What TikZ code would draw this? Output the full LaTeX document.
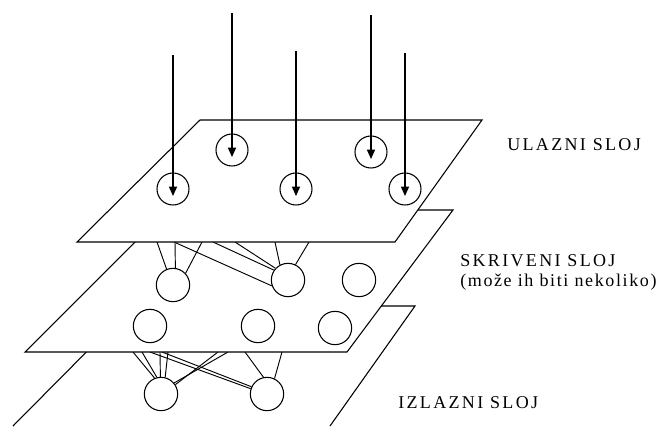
\documentclass[tikz,border=0pt]{standalone}
\usepackage{fontspec}
\setmainfont{Liberation Serif}
\newfontfamily\labfont[LetterSpace=13]{Liberation Serif}
\newfontfamily\labfontlc[LetterSpace=9]{Liberation Serif}
\usetikzlibrary{arrows.meta}
\begin{document}
\begin{tikzpicture}[x=0.75pt,y=-0.75pt,
  neuron/.style={circle,draw,line width=0.8pt,minimum size=25pt,inner sep=0pt},
  inneuron/.style={circle,draw,line width=0.8pt,minimum size=24pt,inner sep=0pt},
  plane/.style={draw,fill=white,line width=0.8pt},
  link/.style={line width=0.7pt},
  inarrow/.style={line width=1.1pt,-{Triangle[length=7pt,width=6pt]}},
  lab/.style={anchor=west,inner sep=0pt,font=\labfont\fontsize{13.5pt}{15pt}\selectfont},
  lablc/.style={anchor=west,inner sep=0pt,font=\labfontlc\fontsize{13.5pt}{15pt}\selectfont}]
\useasboundingbox (0,0) rectangle (669,426);

% ---------- output layer ----------
\draw[line width=0.8pt] (13,426) -- (132,306) -- (415,306) -- (330,426);
\node[neuron] (C) at (161,394) {};
\node[neuron] (D) at (267,394) {};
\coordinate (c1) at (133,352);
\coordinate (c2) at (142,352);
\coordinate (c3) at (160,352);
\coordinate (c4) at (168,352);
\coordinate (c5) at (228,352);
\coordinate (c6) at (218,352);
\coordinate (d1) at (162,352);
\coordinate (d2) at (150,352);
\coordinate (d3) at (245,352);
\coordinate (d4) at (282,352);
\draw[link] (C.112) -- (c1);
\draw[link] (C.104) -- (c2);
\draw[link] (C.92) -- (c3);
\draw[link] (C.76) -- (c4);
\draw[link] (C.40) -- (c5);
\draw[link] (C.33) -- (c6);
\draw[link] (D.155) -- (d1);
\draw[link] (D.162) -- (d2);
\draw[link] (D.102) -- (d3);
\draw[link] (D.64) -- (d4);

% ---------- hidden layer ----------
\draw[plane] (167,210) -- (453,210) -- (347,352) -- (25,352) -- cycle;
\node[neuron] (A) at (173,285) {};
\node[neuron] (B) at (288,280) {};
\node[neuron] (H3) at (359,280) {};
\node[neuron] (H4) at (150,326) {};
\node[neuron] (H5) at (258,326) {};
\node[neuron] (H6) at (335,328) {};
\coordinate (a1) at (157,242);
\coordinate (a2) at (175,242);
\coordinate (a3) at (202,242);
\coordinate (b0) at (174,242);
\coordinate (b1) at (213,242);
\coordinate (b2) at (235,242);
\coordinate (b3) at (275,242);
\coordinate (b4) at (309,242);
\draw[link] (A.112) -- (a1);
\draw[link] (A.82) -- (a2);
\draw[link] (A.43) -- (a3);
\draw[link] (B.200) -- (b0);
\draw[link] (B.145) -- (b1);
\draw[link] (B.137) -- (b2);
\draw[link] (B.118) -- (b3);
\draw[link] (B.64) -- (b4);

% ---------- input layer ----------
\draw[plane] (200,120) -- (482,120) -- (395,242) -- (77,242) -- cycle;
\node[inneuron] (I1) at (173,189) {};
\node[inneuron] (I2) at (232,150) {};
\node[inneuron] (I3) at (296,189) {};
\node[inneuron] (I4) at (371,152) {};
\node[inneuron] (I5) at (405,189) {};
\coordinate (s1) at (173,55);
\coordinate (s2) at (232,13);
\coordinate (s3) at (296,51);
\coordinate (s4) at (371,15);
\coordinate (s5) at (405,53);
\draw[inarrow] (s1) -- ([yshift=-5.25pt]I1.center);
\draw[inarrow] (s2) -- ([yshift=-5.25pt]I2.center);
\draw[inarrow] (s3) -- ([yshift=-5.25pt]I3.center);
\draw[inarrow] (s4) -- ([yshift=-5.25pt]I4.center);
\draw[inarrow] (s5) -- ([yshift=-5.25pt]I5.center);

% ---------- labels ----------
\node[lab] (lin) at (507,145) {ULAZNI SLOJ};
\node[lab] (lhid) at (460,261) {SKRIVENI SLOJ};
\node[lablc] (lhid2) at (460,282) {(može ih biti nekoliko)};
\node[lab] (lout) at (398,403) {IZLAZNI SLOJ};
\end{tikzpicture}
\end{document}
